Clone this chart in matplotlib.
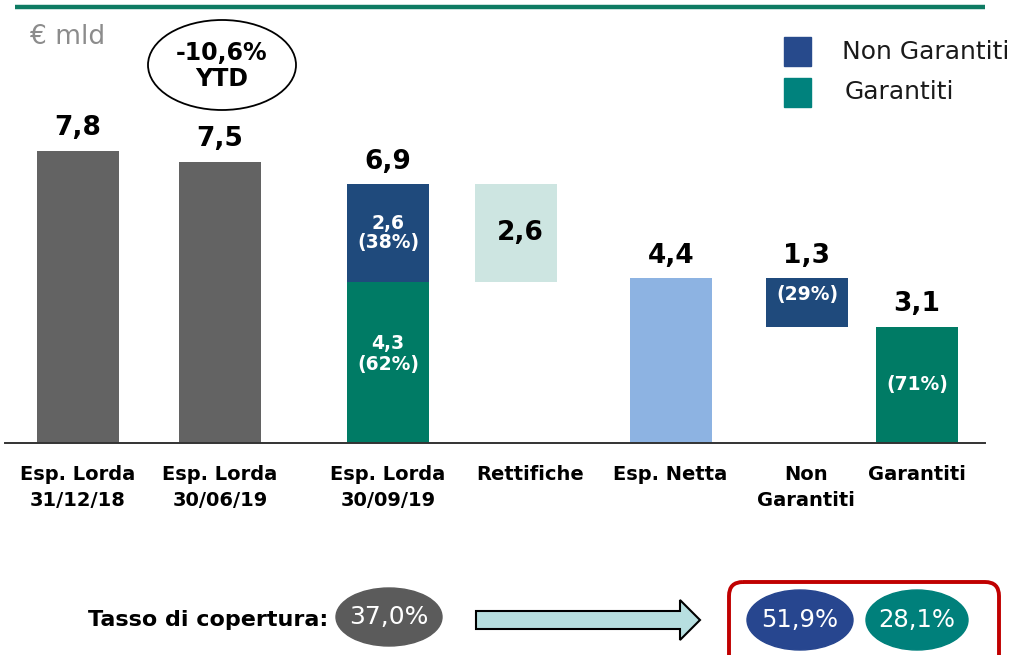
import matplotlib
matplotlib.use("Agg")
import matplotlib.pyplot as plt
import matplotlib.patches as mpatches

# Esposizioni (€ mld)
categories = ["Esp. Lorda\n31/12/18", "Esp. Lorda\n30/06/19", "Esp. Lorda\n30/09/19",
              "Rettifiche", "Esp. Netta", "Non\nGarantiti", "Garantiti"]
lorda_storico = [7.8, 7.5]
lorda_totale = 6.9
lorda_non_garantiti = 2.6
lorda_garantiti = 4.3
lorda_quote = [38, 62]
rettifiche = 2.6
netta = 4.4
netta_non_garantiti = 1.3
netta_garantiti = 3.1
netta_quote = [29, 71]
var_ytd = -10.6
copertura = [37.0, 51.9, 28.1]  # totale, non garantiti, garantiti

GRIGIO = "#636363"
BLU = "#1F4A7C"
VERDE = "#007B65"
VERDE_CHIARO = "#CDE5E1"
AZZURRO = "#8DB3E2"


def fmt(v, dec=1):
    return f"{v:.{dec}f}".replace(".", ",")


W, H = 1017, 655
fig = plt.figure(figsize=(W / 100, H / 100), dpi=100)
plt.rcParams["font.family"] = "DejaVu Sans"

# asse delle barre: base a y=443 px
base_px = 443
ax = fig.add_axes([0, (H - base_px) / H, 1, base_px / H])
ax.set_xlim(0, W)
ax.set_ylim(0, base_px / 37.5)
ax.axis("off")

xpos = [78, 220, 388, 516, 671, 807, 917]
xlab = [78, 220, 388, 530, 670, 806, 917]
bw = 82

ax.bar(xpos[:2], lorda_storico, width=bw, color=GRIGIO, zorder=2)
ax.bar(xpos[2], lorda_garantiti, width=bw, color=VERDE, zorder=2)
ax.bar(xpos[2], lorda_non_garantiti, bottom=lorda_garantiti, width=bw, color=BLU, zorder=2)
ax.bar(xpos[3], rettifiche, bottom=lorda_totale - rettifiche, width=bw, color=VERDE_CHIARO, zorder=2)
ax.bar(xpos[4], netta, width=bw, color=AZZURRO, zorder=2)
ax.bar(xpos[5], netta_non_garantiti, bottom=netta_garantiti, width=bw, color=BLU, zorder=2)
ax.bar(xpos[6], netta_garantiti, width=bw, color=VERDE, zorder=2)

# valori sopra le barre
tops = [(xpos[0], lorda_storico[0]), (xpos[1], lorda_storico[1]), (xpos[2], lorda_totale),
        (xpos[4], netta), (xpos[5], netta_garantiti + netta_non_garantiti), (xpos[6], netta_garantiti)]
vals = [lorda_storico[0], lorda_storico[1], lorda_totale, netta, netta_non_garantiti, netta_garantiti]
for (x, y), v in zip(tops, vals):
    ax.annotate(fmt(v), (x, y), xytext=(0, 11), textcoords="offset points",
                ha="center", va="baseline", fontsize=19, fontweight="bold", color="black")

ax.text(xpos[3] + 4, lorda_totale - rettifiche / 2, fmt(rettifiche), ha="center", va="center",
        fontsize=19, fontweight="bold", color="black", zorder=3)

# etichette interne
ax.text(xpos[2], lorda_garantiti + lorda_non_garantiti / 2,
        f"{fmt(lorda_non_garantiti)}\n({lorda_quote[0]}%)", ha="center", va="center",
        fontsize=13.5, fontweight="bold", color="white", linespacing=1.05, zorder=3)
ax.text(xpos[2], lorda_garantiti * 0.55,
        f"{fmt(lorda_garantiti)}\n({lorda_quote[1]}%)", ha="center", va="center",
        fontsize=13.5, fontweight="bold", color="white", linespacing=1.15, zorder=3)
ax.annotate(f"({netta_quote[0]}%)", (xpos[5], netta_garantiti + netta_non_garantiti),
            xytext=(0, -12), textcoords="offset points", ha="center", va="center",
            fontsize=13.5, fontweight="bold", color="white", zorder=3)
ax.text(xpos[6], netta_garantiti / 2, f"({netta_quote[1]}%)", ha="center", va="center",
        fontsize=13.5, fontweight="bold", color="white", zorder=3)

# livello per forme e testi fuori dal grafico (coordinate in pixel)
deco = fig.add_axes([0, 0, 1, 1], zorder=5)
deco.set_xlim(0, W)
deco.set_ylim(H, 0)
deco.axis("off")
deco.patch.set_alpha(0)

deco.plot([15, 985], [7, 7], color="#0E7B63", lw=3.2, solid_capstyle="butt")
deco.plot([5, 985], [443, 443], color="#333333", lw=1.4, zorder=1)

for x, lab in zip(xlab, categories):
    deco.text(x, 465, lab, ha="center", va="top", fontsize=14, fontweight="bold",
              color="black", linespacing=1.45)

deco.text(30, 37, "€ mld", ha="left", va="center", fontsize=19, color="#8C8C8C")
deco.add_patch(mpatches.Ellipse((222, 65), 148, 90, facecolor="white", edgecolor="black", lw=1.3))
deco.text(222, 66, f"{fmt(var_ytd)}%\nYTD", ha="center", va="center", fontsize=17,
          fontweight="bold", color="black", linespacing=1.15)

# legenda
deco.add_patch(mpatches.Rectangle((784, 37), 27, 29, color="#274A8C"))
deco.add_patch(mpatches.Rectangle((784, 78), 27, 29, color="#00827D"))
deco.text(842, 52, "Non Garantiti", ha="left", va="center", fontsize=18, color="#1a1a1a")
deco.text(845, 92, "Garantiti", ha="left", va="center", fontsize=18, color="#1a1a1a")

# tasso di copertura
deco.text(88, 620, "Tasso di copertura:", ha="left", va="center", fontsize=16,
          fontweight="bold", color="black", zorder=3)
deco.add_patch(mpatches.Ellipse((389, 617), 106, 58, color="#5B5B5B", zorder=2))
deco.text(389, 617, f"{fmt(copertura[0])}%", ha="center", va="center", fontsize=18,
          color="white", zorder=3)

deco.add_patch(mpatches.Polygon([(476, 611), (680, 611), (680, 600), (700, 620), (680, 640),
                                 (680, 629), (476, 629)], closed=True,
                                facecolor="#B7DFE0", edgecolor="black", lw=1.5))

deco.add_patch(mpatches.FancyBboxPatch((729, 582), 270, 90, boxstyle="round,pad=0,rounding_size=14",
                                       facecolor="none", edgecolor="#C00000", lw=2.8))
deco.add_patch(mpatches.Ellipse((800, 620), 106, 60, color="#27468F"))
deco.text(800, 620, f"{fmt(copertura[1])}%", ha="center", va="center", fontsize=17.5, color="white")
deco.add_patch(mpatches.Ellipse((917, 620), 102, 60, color="#00807B"))
deco.text(917, 620, f"{fmt(copertura[2])}%", ha="center", va="center", fontsize=17.5, color="white")

fig.savefig("out.png", dpi=100)
